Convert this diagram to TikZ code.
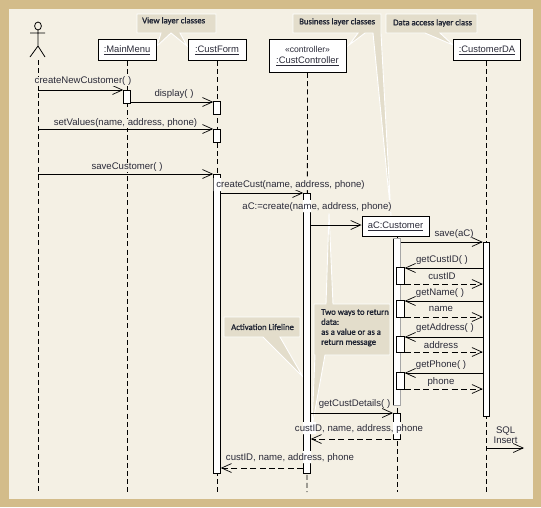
\documentclass[tikz,border=0pt]{standalone}
\usepackage{fontspec}
\setmainfont{Liberation Sans}
\newfontfamily\notefont[FakeBold=1.2]{Carlito}
\usetikzlibrary{arrows.meta}
\definecolor{frametan}{HTML}{D3BC8A}
\definecolor{paper}{HTML}{F4F0E4}
\definecolor{notefill}{HTML}{E3DDCB}
\definecolor{ink}{HTML}{2A2A38}
\definecolor{notetext}{HTML}{1F2433}
\tikzset{
  classbox/.style={draw=black,fill=white,line width=0.9pt,inner sep=0pt,align=center,font=\fontsize{9.4}{11.5}\selectfont,text=ink},
  lifeline/.style={draw=black,line width=0.8pt,dash pattern=on 5pt off 3.2pt},
  bar/.style={draw=black,fill=white,line width=0.9pt,inner sep=0pt,minimum width=6.6pt},
  msg/.style={draw=black,line width=0.8pt,-{Straight Barb[length=10pt,width=9pt,line width=0.7pt]}},
  ret/.style={msg,dash pattern=on 6pt off 3.4pt},
  lab/.style={font=\fontsize{9.6}{10.2}\selectfont,text=ink,inner sep=0.3pt,yshift=-1.3pt},
  labbg/.style={lab,fill=paper},
  note/.style={fill=notefill,draw=white,line width=0.9pt},
  notelab/.style={font=\notefont\fontsize{8.7}{10}\selectfont,text=notetext,inner sep=0pt,align=left,anchor=west},
}
\begin{document}
\begin{tikzpicture}[x=1pt,y=-1pt]
\useasboundingbox (0,0) rectangle (541,507);
\fill[frametan] (0,0) rectangle (541,507);
\fill[paper] (9,9) rectangle (533,499);

% callouts
\path[note] (137,14) -- (216,14) -- (216,33) -- (180,33) -- (187,46) -- (171,33) -- (157,46) -- (161,33) -- (137,33) -- cycle;
\path[note] (293,14) -- (381,14) -- (381,33) -- (391,216) -- (373,33) -- (365,33) -- (349,45) -- (358,33) -- (293,33) -- cycle;
\path[note] (386,14) -- (477,14) -- (477,33) -- (440,33) -- (453,45) -- (425,33) -- (386,33) -- cycle;
\path[note] (224,317) -- (300,317) -- (300,337) -- (280,337) -- (303,377) -- (263,337) -- (224,337) -- cycle;
\path[note] (314,304) -- (326,304) -- (329,213) -- (333,304) -- (390,304) -- (390,355) -- (325,355) -- (312,427) -- (315,355) -- (314,355) -- cycle;
\node[notelab] (n1) at (142,21) {View layer classes};
\node[notelab] (n2) at (299,22) {Business layer classes};
\node[notelab] (n3) at (393,23) {Data access layer class};
\node[notelab] (n4) at (231,327) {Activation Lifeline};
\node[notelab,anchor=north west] (n5) at (321,309) {Two ways to return\\data:\\as a value or as a\\return message};

% actor
\coordinate (actor) at (38,60);
\coordinate (actorend) at (38,492);
\draw[black,line width=0.8pt] (38,26) circle[x radius=3.4pt,y radius=4pt];
\draw[black,line width=0.8pt] (38,30) -- (38,46) (30,33) -- (45,33) (30,57) -- (38,46) -- (45,57);

% class boxes
\node[classbox,minimum width=58pt,minimum height=21pt] (mm) at (127,50) {\underline{:MainMenu}};
\node[classbox,minimum width=58pt,minimum height=21pt] (cf) at (217,50) {\underline{:CustForm}};
\node[classbox,minimum width=77pt,minimum height=33pt] (cc) at (307.5,56) {\fontsize{8.6}{11.5}\selectfont «controller»\\[0pt]\underline{:CustController}};
\node[classbox,minimum width=67pt,minimum height=21pt] (da) at (487,50) {\underline{:CustomerDA}};
\node[classbox,minimum width=67pt,minimum height=20pt] (ac) at (395.5,226) {\underline{aC:Customer}};

% lifelines
\coordinate (mmend) at (127,492);
\coordinate (cfend) at (217,492);
\coordinate (ccend) at (307,492);
\coordinate (acend) at (397,492);
\coordinate (daend) at (486,492);
\coordinate (acbot) at (397,236);
\draw[lifeline] (actor) -- (actorend);
\draw[lifeline] (mm.south) -- (mmend);
\draw[lifeline] (cf.south) -- (cfend);
\draw[lifeline] (cc.south) -- (ccend);
\draw[lifeline] (acbot) -- (acend);
\draw[lifeline] (da.south -| daend) -- (daend);

% activation bars
\node[bar,minimum height=13pt] (b1) at (127,96.5) {};
\node[bar,minimum height=13pt] (b2) at (217,107.5) {};
\node[bar,minimum height=13pt] (b3) at (217,135.5) {};
\node[bar,minimum height=299pt] (b4) at (217,323.5) {};
\node[bar,minimum height=280pt] (b5) at (307,333) {};
\node[bar,minimum height=166pt,draw=none] (b6) at (396.8,322) {};
\draw[black,line width=0.9pt] (b6.north west) -- (b6.south west);
\draw[black!35,line width=1.6pt] (b6.north west) -- (b6.north east) -- (b6.south east) -- (b6.south west);
\node[bar,minimum height=26pt] (b7) at (396.8,426) {};
\node[bar,minimum height=174pt] (b8) at (486.5,329.5) {};
\node[bar,minimum width=7.4pt,minimum height=16.5pt] (s1) at (400.5,275.8) {};
\node[bar,minimum width=7.4pt,minimum height=16.5pt] (s2) at (400.5,309) {};
\node[bar,minimum width=7.4pt,minimum height=16.5pt] (s3) at (400.5,344.4) {};
\node[bar,minimum width=7.4pt,minimum height=16.5pt] (s4) at (400.5,381) {};

% messages
\draw[msg] (38,90) -- (b1.west |- 38,90);
\draw[msg] (b1.east |- 0,102) -- (b2.west |- 0,102);
\draw[msg] (38,129) -- (b3.west |- 0,129);
\draw[msg] (38,174) -- (b4.west |- 0,174);
\draw[msg] (b4.east |- 0,193) -- (b5.west |- 0,193);
\draw[msg] (b5.east |- 0,225) -- (ac.west |- 0,225);
\draw[msg] (b6.east |- 0,242) -- (b8.west |- 0,242);
\draw[msg] (b8.west |- 0,268) -- (s1.east |- 0,268);
\draw[ret] (s1.east |- 0,284) -- (b8.west |- 0,284);
\draw[msg] (b8.west |- 0,301) -- (s2.east |- 0,301);
\draw[ret] (s2.east |- 0,317) -- (b8.west |- 0,317);
\draw[msg] (b8.west |- 0,337) -- (s3.east |- 0,337);
\draw[ret] (s3.east |- 0,352) -- (b8.west |- 0,352);
\draw[msg] (b8.west |- 0,373) -- (s4.east |- 0,373);
\draw[ret] (s4.east |- 0,389) -- (b8.west |- 0,389);
\draw[msg] (b5.east |- 0,413) -- (b7.west |- 0,413);
\draw[ret] (b7.east |- 0,439) -- (b5.east |- 0,439);
\draw[ret] (b5.west |- 0,468) -- (b4.east |- 0,468);
\coordinate (sqlend) at (524,448);
\draw[msg] (486.5,448) -- (sqlend);

% clear bands behind the labels that cross the bars
\fill[paper] (217,178) rectangle (364,190) (243,200) rectangle (391,212)
  (296,422) rectangle (422,434) (226,451) rectangle (353,463);
\fill[white] (213.5,178) rectangle (221,191) (303,200) rectangle (311,212)
  (303,422) rectangle (316,434) (393,422) rectangle (400.5,434) (303,451) rectangle (311,463);

% labels
\node[labbg] (t1) at (83,80) {createNewCustomer( )};
\node[lab] (t2) at (174,93) {display( )};
\node[labbg] (t3) at (125.5,122) {setValues(name, address, phone)};
\node[labbg] (t4) at (127,166) {saveCustomer( )};
\node[lab] (t5) at (290.5,184) {createCust(name, address, phone)};
\node[lab] (t6) at (317,206) {aC:=create(name, address, phone)};
\node[lab] (t7) at (454,233) {save(aC)};
\node[lab] (t8) at (442,259) {getCustID( )};
\node[lab] (t9) at (442,275) {custID};
\node[lab] (t10) at (440,292) {getName( )};
\node[lab] (t11) at (441,308) {name};
\node[lab] (t12) at (445,327) {getAddress( )};
\node[lab] (t13) at (441,344) {address};
\node[lab] (t14) at (441,364) {getPhone( )};
\node[lab] (t15) at (441,381) {phone};
\node[lab] (t16) at (354.5,403) {getCustDetails( )};
\node[lab] (t17) at (359,428) {custID, name, address, phone};
\node[lab] (t18) at (290,457) {custID, name, address, phone};
\node[lab,align=center] (t19) at (505.6,434) {SQL\\Insert};
\end{tikzpicture}
\end{document}
